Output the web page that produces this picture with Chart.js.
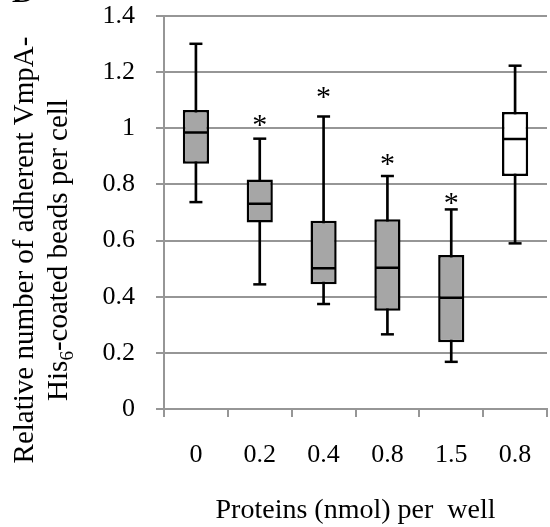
<!DOCTYPE html>
<html>
<head>
<meta charset="utf-8">
<script src="https://cdn.jsdelivr.net/npm/chart.js@4/dist/chart.umd.min.js"></script>
<style>
  html, body { margin: 0; padding: 0; background: #fff; }
</style>
</head>
<body>
<canvas id="chart" width="550" height="527"></canvas>
<script>
// protein amount per well, one box per category
const doses = ['0', '0.2', '0.4', '0.8', '1.5', '0.8'];
const whiskerLow = [0.737, 0.444, 0.374, 0.266, 0.168, 0.590];
const quartile1 = [0.874, 0.664, 0.444, 0.350, 0.238, 0.830];
const medians = [0.985, 0.731, 0.501, 0.503, 0.396, 0.962];
const quartile3 = [1.065, 0.818, 0.671, 0.676, 0.549, 1.058];
const whiskerHigh = [1.301, 0.963, 1.042, 0.830, 0.711, 1.223];
// where the significance stars sit (null = no star)
const starLevels = [null, 1.038, 1.135, 0.898, 0.758, null];
const yTicks = [0, 0.2, 0.4, 0.6, 0.8, 1, 1.2, 1.4];

const serif = 'Liberation Serif';
const gridGray = '#969696';
const boxFills = ['#a6a6a6', '#a6a6a6', '#a6a6a6', '#a6a6a6', '#a6a6a6', '#ffffff'];

const boxes = doses.map((d, i) => [quartile1[i], quartile3[i]]);
const whiskers = doses.map((d, i) => [whiskerLow[i], whiskerHigh[i]]);

function pointLine(data, radius) {
  return {
    type: 'line',
    data: data,
    showLine: false,
    pointStyle: 'line',
    pointRadius: radius,
    pointHoverRadius: radius,
    pointBorderColor: '#000',
    pointBackgroundColor: '#000',
    pointBorderWidth: 2.5,
    borderColor: '#000',
    order: 1
  };
}

const extras = {
  id: 'extras',
  afterDatasetsDraw(chart) {
    const { ctx, scales: { x, y } } = chart;
    ctx.save();
    ctx.fillStyle = '#000';
    ctx.font = '30px "' + serif + '"';
    ctx.textAlign = 'center';
    ctx.textBaseline = 'alphabetic';
    starLevels.forEach((v, i) => {
      if (v === null) return;
      ctx.fillText('*', x.getPixelForValue(i), y.getPixelForValue(v) + 16);
    });
    ctx.restore();
  },
  afterDraw(chart) {
    const ctx = chart.ctx;
    ctx.save();
    ctx.fillStyle = '#000';
    // panel letter, cut off at the top
    ctx.font = 'bold 30px "' + serif + '"';
    ctx.textAlign = 'left';
    ctx.textBaseline = 'alphabetic';
    ctx.fillText('B', 12, 2);

    // y axis title, two lines
    const cy = 250;
    const big = '29px "' + serif + '"';
    const small = '19px "' + serif + '"';
    ctx.font = big;
    ctx.save();
    ctx.translate(33, cy);
    ctx.rotate(-Math.PI / 2);
    ctx.textAlign = 'center';
    ctx.fillText('Relative number of adherent VmpA-', 0, 0);
    ctx.restore();

    ctx.save();
    ctx.translate(67, cy);
    ctx.rotate(-Math.PI / 2);
    ctx.textAlign = 'left';
    ctx.font = big;
    const w1 = ctx.measureText('His').width;
    const w3 = ctx.measureText('-coated beads per cell').width;
    ctx.font = small;
    const w2 = ctx.measureText('6').width;
    let px = -(w1 + w2 + w3) / 2;
    ctx.font = big;
    ctx.fillText('His', px, 0);
    px += w1;
    ctx.font = small;
    ctx.fillText('6', px, 6);
    px += w2;
    ctx.font = big;
    ctx.fillText('-coated beads per cell', px, 0);
    ctx.restore();

    ctx.restore();
  }
};

new Chart(document.getElementById('chart'), {
  type: 'bar',
  data: {
    labels: doses,
    datasets: [
      pointLine(medians, 12),
      pointLine(whiskerHigh, 6.5),
      pointLine(whiskerLow, 6.5),
      {
        type: 'bar',
        data: boxes,
        backgroundColor: boxFills,
        borderColor: '#000',
        borderWidth: 2.5,
        borderSkipped: false,
        barPercentage: 0.41,
        categoryPercentage: 1,
        grouped: false,
        order: 2
      },
      {
        type: 'bar',
        data: whiskers,
        backgroundColor: '#000',
        borderWidth: 0,
        barThickness: 2,
        grouped: false,
        order: 3
      }
    ]
  },
  options: {
    responsive: false,
    animation: false,
    devicePixelRatio: 1,
    layout: { autoPadding: false, padding: { top: 16, right: 3, left: 0, bottom: 0 } },
    plugins: { legend: { display: false }, tooltip: { enabled: false } },
    scales: {
      x: {
        offset: true,
        grid: { offset: true, drawOnChartArea: false, tickLength: 8, color: gridGray, lineWidth: 2 },
        border: { color: gridGray, width: 2 },
        ticks: { color: '#000', font: { family: serif, size: 26 }, padding: 23, maxRotation: 0, autoSkip: false },
        title: {
          display: true,
          text: 'Proteins (nmol) per  well',
          color: '#000',
          font: { family: serif, size: 28 },
          padding: { top: 0, bottom: 0 }
        },
        afterFit(scale) {
          scale.height = 118;
          scale.paddingLeft = 0;
          scale.paddingRight = 0;
        }
      },
      y: {
        min: 0,
        max: 1.4,
        afterBuildTicks(scale) { scale.ticks = yTicks.map(v => ({ value: v })); },
        grid: { color: gridGray, lineWidth: 2, tickLength: 8 },
        border: { color: gridGray, width: 2 },
        ticks: {
          color: '#000',
          font: { family: serif, size: 26 },
          padding: 21,
          callback: v => String(Number(v.toFixed(1)))
        },
        afterFit(scale) {
          scale.width = 164;
          scale.paddingTop = 0;
          scale.paddingBottom = 0;
        }
      }
    }
  },
  plugins: [extras]
});
</script>
</body>
</html>
